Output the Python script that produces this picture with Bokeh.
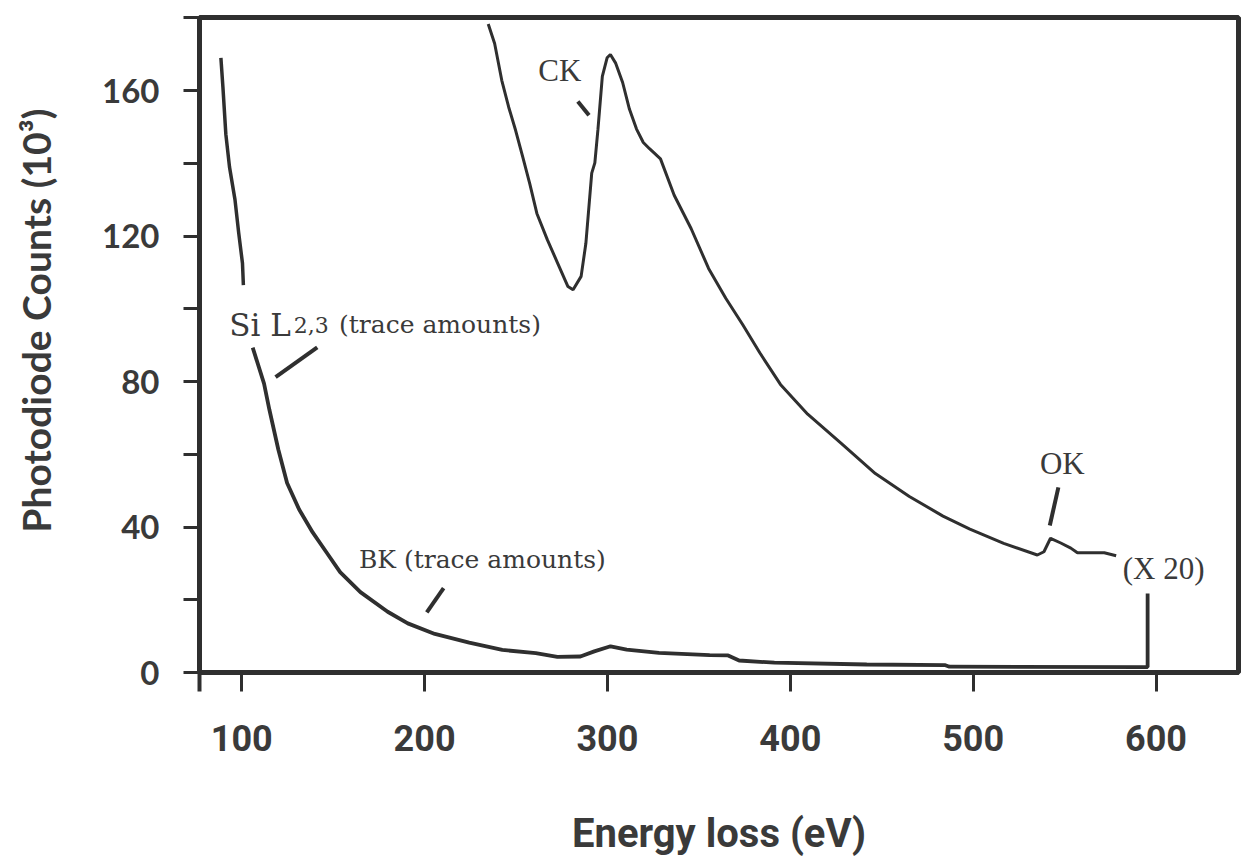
from bokeh.plotting import figure
from bokeh.models import FixedTicker, Range1d
from bokeh.core.properties import value
from bokeh.embed import file_html
from bokeh.resources import INLINE

# ---------------- data ----------------
# main spectrum, first visible piece (steep Si L2,3 pre-edge region)
main1_ev = [88.6, 89.7, 91.3, 93.3, 96.3, 98.3, 100.4, 100.9]
main1_counts = [169.0, 161.0, 148.0, 139.0, 130.0, 121.0, 112.5, 106.5]

# main spectrum, second piece (after the label gap), ending with the detector spike
main2_ev = [106.0, 112.2, 115.1, 120.0, 124.8, 131.4, 138.8, 146.4, 153.8, 164.9,
            179.8, 190.8, 205.6, 224.4, 242.5, 260.8, 272.6, 285.2, 292.8, 301.7,
            310.5, 328.2, 355.9, 366.0, 372.0, 391.3, 441.8, 484.8, 487.0, 593.4,
            595.4, 595.4]
main2_counts = [89.3, 79.4, 72.3, 61.3, 52.1, 44.8, 38.5, 33.0, 27.6, 22.1,
                16.7, 13.5, 10.6, 8.2, 6.2, 5.3, 4.3, 4.4, 5.8, 7.2,
                6.3, 5.4, 4.8, 4.7, 3.3, 2.7, 2.2, 2.0, 1.6, 1.5,
                1.5, 21.7]

# magnified trace (x 20)
x20_ev = [234.8, 238.3, 242.2, 246.0, 249.8, 253.7, 257.5, 261.4, 267.1, 272.8,
          278.4, 281.2, 285.6, 288.2, 291.4, 293.1, 294.8, 297.2, 299.8, 301.6,
          304.4, 308.3, 312.0, 315.9, 319.6, 323.0, 329.0, 336.5, 345.8, 355.3,
          364.7, 374.0, 383.3, 394.6, 409.5, 428.0, 446.5, 465.1, 483.5, 498.2,
          516.7, 535.1, 538.7, 542.3, 547.9, 553.4, 557.0, 564.4, 571.7, 578.2]
x20_counts = [178.3, 172.9, 162.8, 155.4, 149.0, 141.7, 134.4, 126.2, 119.0, 112.5,
              106.1, 105.2, 108.9, 118.0, 137.3, 140.1, 149.3, 163.9, 169.0, 169.9,
              167.6, 162.2, 154.9, 149.4, 145.7, 144.0, 141.2, 131.2, 122.0, 111.1,
              102.9, 95.6, 87.9, 79.2, 71.0, 62.9, 54.7, 48.4, 43.0, 39.4,
              35.5, 32.3, 33.2, 36.9, 35.6, 34.2, 32.9, 32.9, 32.9, 32.1]

x_ticks = [100, 200, 300, 400, 500, 600]
y_ticks = [0, 40, 80, 120, 160]
y_minor_ticks = [20, 60, 100, 140, 180]

# annotation pointer strokes (x0, y0, x1, y1) in data units: CK, Si, BK, OK
ptr_x0 = [283.8, 118.5, 201.2, 546.6]
ptr_y0 = [157.0, 81.2, 16.5, 50.9]
ptr_x1 = [289.9, 141.3, 210.4, 541.9]
ptr_y1 = [153.2, 89.4, 23.2, 40.4]

# annotation texts
times_text = ["CK", "OK", "(X 20)"]
times_x = [262.2, 536.5, 581.8]
times_y = [165.5, 57.4, 28.5]

si_text = ["Si L"]
si_x = [93.2]
si_y = [95.5]
sub_text = ["2,3"]
sub_x = [128.4]
sub_y = [95.5]
trace_text = ["(trace amounts)", "BK (trace amounts)"]
trace_x = [153.2, 164.1]
trace_y = [95.7, 31.0]

INK = "#2f2f2f"
TXT = "#3a3a3a"

p = figure(width=1242, height=860,
           x_range=Range1d(76.9, 645.1), y_range=Range1d(0, 180.07),
           output_backend="svg", toolbar_location=None,
           min_border_left=199, min_border_right=4,
           min_border_top=17, min_border_bottom=188)

p.xgrid.visible = False
p.ygrid.visible = False
p.background_fill_color = "white"
p.border_fill_color = "white"
p.outline_line_color = INK
p.outline_line_width = 5
p.outline_line_alpha = 1.0

# x axis
xa = p.xaxis[0]
xa.ticker = FixedTicker(ticks=x_ticks, minor_ticks=[77.0])
xa.axis_line_color = INK
xa.axis_line_width = 5
xa.major_tick_in = 0
xa.major_tick_out = 19
xa.major_tick_line_width = 3
xa.major_tick_line_color = INK
xa.minor_tick_in = 0
xa.minor_tick_out = 19
xa.minor_tick_line_width = 4
xa.minor_tick_line_color = INK
xa.major_label_text_font = "Roboto"
xa.major_label_text_font_style = "bold"
xa.major_label_text_font_size = "36px"
xa.major_label_text_color = TXT
xa.major_label_standoff = 33
xa.axis_label = "Energy loss (eV)"
xa.axis_label_text_font = "Roboto"
xa.axis_label_text_font_style = "bold"
xa.axis_label_text_font_size = "40px"
xa.axis_label_text_color = TXT
xa.axis_label_standoff = 56

# y axis
ya = p.yaxis[0]
ya.ticker = FixedTicker(ticks=y_ticks, minor_ticks=y_minor_ticks)
ya.axis_line_color = INK
ya.axis_line_width = 5
ya.major_tick_in = 0
ya.major_tick_out = 16
ya.major_tick_line_width = 3
ya.major_tick_line_color = INK
ya.minor_tick_in = 0
ya.minor_tick_out = 16
ya.minor_tick_line_width = 3
ya.minor_tick_line_color = INK
ya.major_label_text_font = "Lato"
ya.major_label_text_font_style = "bold"
ya.major_label_text_font_size = "33px"
ya.major_label_text_color = TXT
ya.major_label_standoff = 24
ya.axis_label = "\u2003\u2002Photodiode Counts (10³)"
ya.axis_label_text_font = "Lato"
ya.axis_label_text_font_style = "bold"
ya.axis_label_text_font_size = "39px"
ya.axis_label_text_color = TXT
ya.axis_label_standoff = 40

# curves
p.line(main1_ev, main1_counts, line_color=INK, line_width=3.5)
p.line(main2_ev, main2_counts, line_color=INK, line_width=3.8)
p.line(x20_ev, x20_counts, line_color=INK, line_width=3.0)

# pointers
p.segment(x0=ptr_x0, y0=ptr_y0, x1=ptr_x1, y1=ptr_y1, line_color=INK, line_width=4)

# annotation texts
p.text(x=times_x, y=times_y, text=times_text, text_font=value("Liberation Serif"),
       text_font_size="31px", text_color=TXT, text_baseline="alphabetic", text_align="left")
p.text(x=si_x, y=si_y, text=si_text, text_font=value("DejaVu Serif"),
       text_font_size="31px", text_color=TXT, text_baseline="alphabetic", text_align="left")
p.text(x=sub_x, y=sub_y, text=sub_text, text_font=value("DejaVu Serif"),
       text_font_size="22px", text_color=TXT, text_baseline="alphabetic", text_align="left")
p.text(x=trace_x, y=trace_y, text=trace_text, text_font=value("DejaVu Serif"),
       text_font_size="25px", text_color=TXT, text_baseline="alphabetic", text_align="left")

open("out.html", "w").write(file_html(p, INLINE))
